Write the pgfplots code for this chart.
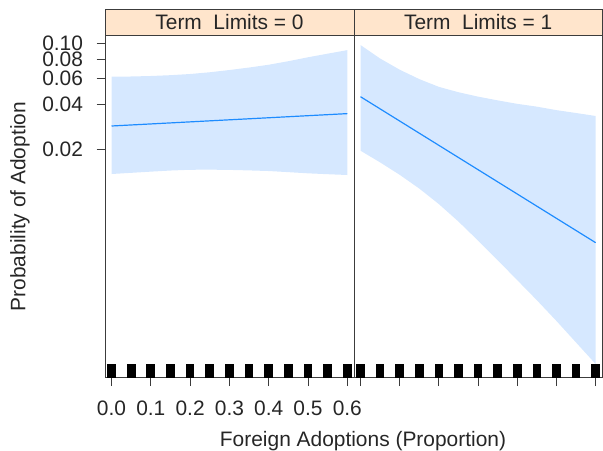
\documentclass[border=0pt]{standalone}
\usepackage{pgfplots}
\pgfplotsset{compat=1.18}
\usepackage{fontspec}
\setmainfont{Liberation Sans}

\definecolor{bandblue}{RGB}{214,232,255}
\definecolor{lineblue}{RGB}{30,140,255}
\definecolor{strippeach}{RGB}{255,229,204}
\definecolor{framegray}{RGB}{60,60,60}
\newcommand{\bigfont}{\fontsize{21}{25}\selectfont}

\pgfplotsset{
  panel/.style={
    scale only axis,
    height=342bp,
    xmin=-0.0166, xmax=0.617,
    ymin=-7.567, ymax=-2.068,
    axis line style={framegray, line width=0.9bp},
    tick style={framegray, line width=0.9bp},
    tick align=outside,
    major tick length=8.5bp,
    xtick={0,0.1,0.2,0.3,0.4,0.5,0.6},
    xtick pos=bottom, ytick pos=left,
    tick label style={font=\bigfont, text=black!85},
    xticklabel style={yshift=-11bp},
    yticklabel style={xshift=-10bp},
    axis on top,
  },
  rug/.style={only marks, mark=|, mark size=6.85bp,
    mark options={black, line width=8.7bp}},
}

\begin{document}
\begin{tikzpicture}
\useasboundingbox (0,0) rectangle (603bp,451bp);

% Term Limits = 0
\begin{axis}[panel, name=left, at={(105bp,73.3bp)}, anchor=south west,
    width=249bp,
    ytick={-3.89182,-3.17805,-2.75154,-2.44235,-2.19722},
    yticklabels={0.02,0.04,0.06,0.08,0.10},
    xticklabels={0.0,0.1,0.2,0.3,0.4,0.5,0.6}]
\addplot[fill=bandblue, draw=none] coordinates {
  (0,-2.728) (0.05,-2.724) (0.1,-2.716) (0.15,-2.703) (0.2,-2.684) (0.25,-2.656) (0.3,-2.620)
  (0.35,-2.580) (0.4,-2.535) (0.45,-2.478) (0.5,-2.415) (0.55,-2.357) (0.6,-2.300)
  (0.6,-4.308) (0.55,-4.295) (0.5,-4.281) (0.45,-4.262) (0.4,-4.244) (0.35,-4.234) (0.3,-4.226)
  (0.25,-4.222) (0.2,-4.224) (0.15,-4.236) (0.1,-4.254) (0.05,-4.273) (0,-4.292)
} -- cycle;
\addplot[lineblue, line width=1.2bp] coordinates {(0,-3.520) (0.6,-3.321)};
\addplot[rug] coordinates {
  (0,-7.457) (0.05,-7.457) (0.1,-7.457) (0.15,-7.457) (0.2,-7.457) (0.25,-7.457) (0.3,-7.457)
  (0.35,-7.457) (0.4,-7.457) (0.45,-7.457) (0.5,-7.457) (0.55,-7.457) (0.6,-7.457)};
\end{axis}

% Term Limits = 1
\begin{axis}[panel, name=right, at={(354bp,73.3bp)}, anchor=south west,
    width=248.3bp,
    ytick=\empty,
    xticklabels={}]
\addplot[fill=bandblue, draw=none] coordinates {
  (0,-2.218) (0.05,-2.435) (0.1,-2.615) (0.15,-2.766) (0.2,-2.891) (0.25,-2.977) (0.3,-3.048)
  (0.35,-3.108) (0.4,-3.164) (0.45,-3.209) (0.5,-3.265) (0.55,-3.311) (0.6,-3.359)
  (0.6,-7.347) (0.55,-7.001) (0.5,-6.655) (0.45,-6.321) (0.4,-5.999) (0.35,-5.678) (0.3,-5.363)
  (0.25,-5.057) (0.2,-4.776) (0.15,-4.526) (0.1,-4.305) (0.05,-4.105) (0,-3.917)
} -- cycle;
\addplot[lineblue, line width=1.2bp] coordinates {(0,-3.049) (0.6,-5.396)};
\addplot[rug] coordinates {
  (0,-7.457) (0.05,-7.457) (0.1,-7.457) (0.15,-7.457) (0.2,-7.457) (0.25,-7.457) (0.3,-7.457)
  (0.35,-7.457) (0.4,-7.457) (0.45,-7.457) (0.5,-7.457) (0.55,-7.457) (0.6,-7.457)};
\end{axis}

% strips
\draw[fill=strippeach, draw=framegray, line width=0.9bp]
  (left.north west) rectangle ([yshift=26.7bp]left.north east)
  node[midway, font=\bigfont, text=black!85] {Term\ \ Limits = 0};
\draw[fill=strippeach, draw=framegray, line width=0.9bp]
  (right.north west) rectangle ([yshift=26.7bp]right.north east)
  node[midway, font=\bigfont, text=black!85] {Term\ \ Limits = 1};

% axis titles
\node[rotate=90, font=\bigfont, text=black!85] at (20bp,244.3bp) {Probability of Adoption};
\node[anchor=base, font=\bigfont, text=black!85] at (363bp,4.3bp) {Foreign Adoptions (Proportion)};
\end{tikzpicture}
\end{document}
